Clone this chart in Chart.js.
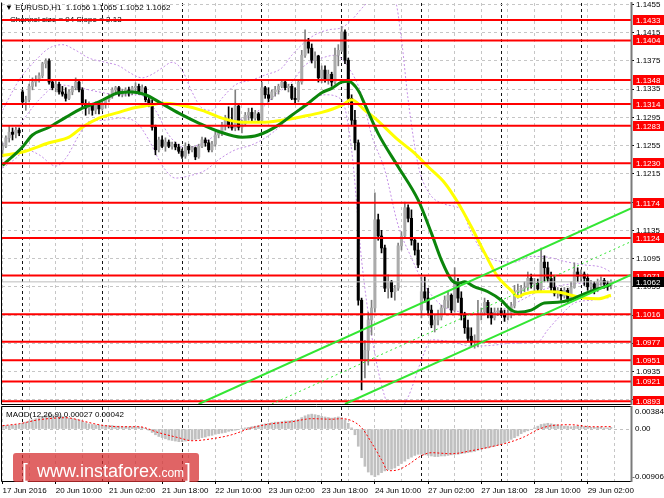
<!DOCTYPE html>
<html>
<head>
<meta charset="utf-8">
<title>EURUSD H1</title>
<script src="https://cdn.jsdelivr.net/npm/chart.js@4.4.1/dist/chart.umd.min.js"></script>
<style>
  html, body { margin: 0; padding: 0; background: #fff; }
  #wrap { position: relative; width: 664px; height: 498px; overflow: hidden; }
  #priceChart { position: absolute; left: 0; top: 0; }
  #macdChart { position: absolute; left: 0; top: 405px; }
</style>
</head>
<body>
<div id="wrap">
  <canvas id="priceChart" width="664" height="405"></canvas>
  <canvas id="macdChart" width="664" height="93"></canvas>
</div>
<script>
// hourly bars, index 0 = 17 Jun 18:00
const barOpen = [
  1.1249,1.1254,1.1266,1.1274,1.1271,1.1277,1.1331,1.1317,1.1320,1.1339,
  1.1345,1.1348,1.1354,1.1371,1.1375,1.1345,1.1337,1.1342,1.1331,1.1328,
  1.1322,1.1331,1.1337,1.1345,1.1334,1.1314,1.1308,1.1314,1.1305,1.1312,
  1.1307,1.1315,1.1320,1.1325,1.1334,1.1337,1.1328,1.1331,1.1334,1.1330,
  1.1337,1.1339,1.1331,1.1337,1.1320,1.1314,1.1281,1.1249,1.1263,1.1254,
  1.1260,1.1254,1.1257,1.1253,1.1247,1.1240,1.1254,1.1249,1.1252,1.1239,
  1.1254,1.1263,1.1259,1.1249,1.1257,1.1270,1.1273,1.1284,1.1291,1.1284,
  1.1280,1.1311,1.1281,1.1286,1.1298,1.1302,1.1294,1.1300,1.1291,1.1337,
  1.1327,1.1322,1.1331,1.1334,1.1339,1.1345,1.1337,1.1339,1.1322,1.1320,
  1.1345,1.1383,1.1402,1.1393,1.1376,1.1382,1.1351,1.1362,1.1348,1.1356,
  1.1345,1.1383,1.1390,1.1416,1.1376,1.1322,1.1291,1.1259,1.1036,1.0951,
  1.0965,1.1008,1.1025,1.1150,1.1127,1.1110,1.1053,1.1062,1.1048,1.1053,
  1.1113,1.1127,1.1167,1.1152,1.1121,1.1107,1.1022,1.1048,1.1039,1.1022,
  1.1001,1.1008,1.1012,1.1025,1.1036,1.1043,1.1022,1.1062,1.1039,1.1015,
  1.0997,1.0985,1.0977,1.0977,1.1015,1.1019,1.1033,1.1018,1.1011,1.1019,
  1.1021,1.1016,1.1012,1.1018,1.1028,1.1048,1.1050,1.1053,1.1054,1.1067,
  1.1059,1.1060,1.1052,1.1090,1.1082,1.1067,1.1054,1.1046,1.1050,1.1042,
  1.1050,1.1038,1.1054,1.1076,1.1070,1.1073,1.1067,1.1055,1.1059,1.1050,
  1.1062,1.1064,1.1059,1.1056
];
const barHigh = [
  1.1259,1.1269,1.1283,1.1280,1.1281,1.1280,1.1334,1.1325,1.1342,1.1351,
  1.1354,1.1358,1.1373,1.1378,1.1378,1.1348,1.1348,1.1345,1.1339,1.1337,
  1.1334,1.1339,1.1351,1.1348,1.1337,1.1320,1.1317,1.1315,1.1317,1.1315,
  1.1320,1.1322,1.1328,1.1337,1.1339,1.1339,1.1335,1.1337,1.1338,1.1339,
  1.1344,1.1342,1.1341,1.1339,1.1325,1.1320,1.1284,1.1267,1.1269,1.1266,
  1.1263,1.1260,1.1260,1.1257,1.1250,1.1259,1.1257,1.1254,1.1253,1.1257,
  1.1267,1.1266,1.1263,1.1261,1.1274,1.1277,1.1288,1.1298,1.1310,1.1308,
  1.1334,1.1314,1.1291,1.1302,1.1308,1.1308,1.1305,1.1302,1.1345,1.1339,
  1.1337,1.1334,1.1339,1.1342,1.1348,1.1348,1.1342,1.1342,1.1337,1.1348,
  1.1390,1.1419,1.1407,1.1399,1.1388,1.1383,1.1368,1.1368,1.1362,1.1359,
  1.1393,1.1398,1.1424,1.1419,1.1379,1.1327,1.1305,1.1263,1.1039,1.0979,
  1.1019,1.1036,1.1188,1.1158,1.1135,1.1114,1.1072,1.1064,1.1057,1.1117,
  1.1133,1.1175,1.1171,1.1164,1.1124,1.1117,1.1069,1.1069,1.1053,1.1029,
  1.1015,1.1022,1.1029,1.1042,1.1048,1.1045,1.1082,1.1067,1.1048,1.1019,
  1.1008,1.0997,1.0987,1.1036,1.1025,1.1039,1.1036,1.1025,1.1025,1.1025,
  1.1025,1.1022,1.1022,1.1033,1.1057,1.1059,1.1057,1.1062,1.1076,1.1073,
  1.1067,1.1066,1.1110,1.1099,1.1090,1.1076,1.1070,1.1054,1.1053,1.1054,
  1.1053,1.1062,1.1089,1.1082,1.1079,1.1076,1.1072,1.1064,1.1062,1.1066,
  1.1069,1.1067,1.1063,1.1065
];
const barLow = [
  1.1239,1.1252,1.1260,1.1263,1.1266,1.1269,1.1314,1.1305,1.1317,1.1334,
  1.1339,1.1345,1.1351,1.1365,1.1342,1.1334,1.1331,1.1328,1.1325,1.1318,
  1.1320,1.1327,1.1334,1.1331,1.1308,1.1298,1.1300,1.1298,1.1300,1.1300,
  1.1305,1.1308,1.1317,1.1322,1.1330,1.1325,1.1324,1.1325,1.1325,1.1327,
  1.1331,1.1328,1.1327,1.1317,1.1310,1.1277,1.1242,1.1246,1.1252,1.1247,
  1.1252,1.1250,1.1249,1.1244,1.1237,1.1237,1.1244,1.1246,1.1235,1.1237,
  1.1252,1.1254,1.1246,1.1246,1.1254,1.1266,1.1269,1.1277,1.1280,1.1277,
  1.1276,1.1277,1.1273,1.1283,1.1291,1.1288,1.1291,1.1288,1.1290,1.1322,
  1.1317,1.1320,1.1325,1.1328,1.1337,1.1334,1.1331,1.1320,1.1315,1.1317,
  1.1342,1.1380,1.1386,1.1372,1.1365,1.1345,1.1344,1.1345,1.1342,1.1339,
  1.1342,1.1368,1.1388,1.1371,1.1314,1.1284,1.1249,1.1029,1.0909,1.0926,
  1.0944,1.0987,1.1019,1.1121,1.1103,1.1048,1.1039,1.1040,1.1036,1.1050,
  1.1107,1.1124,1.1147,1.1114,1.1100,1.1082,1.1011,1.1033,1.1015,1.0997,
  1.0991,1.1001,1.1008,1.1016,1.1025,1.1018,1.1019,1.1033,1.1008,1.0989,
  1.0977,1.0972,1.0968,1.0970,1.1008,1.1016,1.1011,1.1002,1.1008,1.1014,
  1.1014,1.1006,1.1008,1.1011,1.1025,1.1039,1.1040,1.1048,1.1050,1.1053,
  1.1048,1.1048,1.1049,1.1062,1.1062,1.1048,1.1042,1.1039,1.1036,1.1039,
  1.1033,1.1036,1.1053,1.1062,1.1062,1.1057,1.1050,1.1048,1.1045,1.1048,
  1.1057,1.1053,1.1050,1.1052
];
const barClose = [
  1.1254,1.1266,1.1274,1.1271,1.1277,1.1273,1.1317,1.1320,1.1339,1.1345,
  1.1348,1.1354,1.1371,1.1375,1.1345,1.1337,1.1342,1.1331,1.1328,1.1322,
  1.1331,1.1337,1.1345,1.1334,1.1314,1.1308,1.1314,1.1305,1.1312,1.1307,
  1.1315,1.1320,1.1325,1.1334,1.1337,1.1328,1.1331,1.1334,1.1330,1.1337,
  1.1339,1.1331,1.1337,1.1320,1.1314,1.1281,1.1249,1.1263,1.1254,1.1260,
  1.1254,1.1257,1.1253,1.1247,1.1240,1.1254,1.1249,1.1252,1.1239,1.1254,
  1.1263,1.1259,1.1249,1.1257,1.1270,1.1273,1.1284,1.1291,1.1284,1.1280,
  1.1311,1.1281,1.1286,1.1298,1.1302,1.1294,1.1300,1.1291,1.1337,1.1327,
  1.1322,1.1331,1.1334,1.1339,1.1345,1.1337,1.1339,1.1322,1.1320,1.1345,
  1.1383,1.1402,1.1393,1.1376,1.1382,1.1351,1.1362,1.1348,1.1356,1.1345,
  1.1383,1.1390,1.1416,1.1376,1.1322,1.1291,1.1259,1.1036,1.0951,1.0965,
  1.1008,1.1025,1.1150,1.1127,1.1110,1.1053,1.1062,1.1048,1.1053,1.1113,
  1.1127,1.1167,1.1152,1.1121,1.1107,1.1086,1.1048,1.1039,1.1022,1.1001,
  1.1008,1.1015,1.1025,1.1036,1.1043,1.1022,1.1062,1.1039,1.1015,1.0997,
  1.0982,1.0977,1.0979,1.1015,1.1019,1.1033,1.1018,1.1011,1.1019,1.1021,
  1.1016,1.1012,1.1018,1.1028,1.1048,1.1050,1.1053,1.1054,1.1067,1.1059,
  1.1060,1.1052,1.1090,1.1082,1.1067,1.1054,1.1046,1.1050,1.1042,1.1050,
  1.1038,1.1054,1.1076,1.1070,1.1073,1.1067,1.1055,1.1059,1.1050,1.1062,
  1.1064,1.1059,1.1055,1.1062
];

// indicator curves: [bar, value]
const maGreen = [[0,1.1227],[6,1.1253],[9,1.1270],[14,1.1281],[19,1.1295],[24,1.1308],[29,1.1317],[35,1.1330],[39,1.1331],[43,1.1327],[47,1.1317],[53,1.1301],[59,1.1287],[65,1.1275],[72,1.1267],[77,1.1270],[83,1.1284],[87,1.1298],[92,1.1315],[96,1.1330],[99,1.1336],[102,1.1345],[104,1.1346],[107,1.1333],[109,1.1313],[113,1.1272],[119,1.1225],[125,1.1178],[129,1.1131],[132,1.1093],[135,1.1065],[137,1.1060],[139,1.1062],[142,1.1055],[146,1.1048],[150,1.1036],[153,1.1022],[155,1.1019],[159,1.1022],[163,1.1032],[167,1.1033],[171,1.1037],[175,1.1045],[179,1.1052],[183,1.1058]];
const maYellow = [[0,1.1241],[6,1.1246],[14,1.1259],[20,1.1267],[24,1.1281],[29,1.1294],[35,1.1302],[39,1.1308],[44,1.1312],[48,1.1315],[53,1.1313],[60,1.1305],[66,1.1294],[72,1.1288],[78,1.1288],[84,1.1291],[90,1.1296],[96,1.1302],[102,1.1312],[105,1.1320],[109,1.1305],[112,1.1294],[119,1.1263],[124,1.1244],[128,1.1225],[133,1.1202],[137,1.1174],[141,1.1140],[145,1.1103],[149,1.1069],[153,1.1050],[155,1.1041],[157,1.1045],[161,1.1048],[165,1.1048],[169,1.1046],[171,1.1043],[175,1.1039],[179,1.1038],[183,1.1043]];
const bandUpper = [[0,1.1305],[5,1.1348],[10,1.1376],[14,1.1393],[18,1.1398],[22,1.1390],[26,1.1379],[31,1.1373],[35,1.1368],[38,1.1359],[42,1.1351],[45,1.1356],[48,1.1365],[51,1.1373],[54,1.1362],[57,1.1331],[60,1.1308],[63,1.1305],[66,1.1322],[70,1.1341],[75,1.1348],[79,1.1355],[84,1.1365],[87,1.1383],[91,1.1402],[94,1.1412],[98,1.1419],[102,1.1422],[105,1.1433],[109,1.1454],[113,1.1468],[118,1.1461],[120,1.1405],[122,1.1320],[125,1.1228],[128,1.1190],[133,1.1172],[138,1.1164],[141,1.1132],[145,1.1101],[150,1.1091],[154,1.1090],[159,1.1098],[164,1.1097],[169,1.1091],[175,1.1086],[180,1.1083],[183,1.1076]];
const bandMiddle = [[0,1.1256],[5,1.1284],[11,1.1320],[17,1.1341],[23,1.1337],[29,1.1331],[35,1.1327],[41,1.1327],[46,1.1305],[50,1.1270],[55,1.1252],[59,1.1256],[64,1.1270],[68,1.1288],[73,1.1294],[78,1.1308],[82,1.1327],[87,1.1345],[91,1.1369],[96,1.1379],[100,1.1383],[104,1.1366],[108,1.1327],[111,1.1270],[115,1.1220],[119,1.1142],[123,1.1096],[127,1.1057],[132,1.1029],[138,1.1019],[144,1.1015],[150,1.1022],[156,1.1036],[162,1.1050],[168,1.1057],[175,1.1060],[183,1.1057]];
const bandLower = [[0,1.1223],[4,1.1237],[7,1.1249],[11,1.1242],[16,1.1226],[19,1.1237],[23,1.1270],[26,1.1289],[31,1.1291],[35,1.1294],[40,1.1289],[44,1.1263],[48,1.1227],[52,1.1209],[56,1.1212],[61,1.1220],[65,1.1235],[70,1.1249],[75,1.1256],[79,1.1266],[84,1.1284],[88,1.1303],[93,1.1320],[97,1.1327],[102,1.1320],[105,1.1249],[108,1.1093],[111,1.0987],[115,1.0899],[118,1.0874],[122,1.0899],[126,1.0951],[129,1.0980],[135,1.0977],[141,1.0971],[147,1.0972],[153,1.0975],[161,1.0977],[164,1.0994],[168,1.1015],[172,1.1032],[177,1.1036],[183,1.1040]];

// regression channel
const channelUpper = [[59,1.0889],[189.04,1.1166]];
const channelMiddle = [[81,1.0889],[189.04,1.1119]];
const channelLower = [[103,1.0889],[189.04,1.1072]];

// horizontal levels
const levelPrices = [1.1433,1.1404,1.1348,1.1314,1.1283,1.1230,1.1174,1.1124,1.1071,1.1016,1.0977,1.0951,1.0921,1.0893];
const lastPrice = 1.1062;
const priceTicks = [1.1455,1.1415,1.1375,1.1335,1.1295,1.1255,1.1215,1.1175,1.1135,1.1095,1.1055,1.1015,1.0975,1.0935,1.0895];

// MACD(12,26,9)
const macdHist = [
  0.0005,0.0006,0.0006,0.0007,0.0007,0.0008,0.0010,0.0012,0.0014,0.0016,
  0.0018,0.0020,0.0022,0.0024,0.0025,0.0025,0.0024,0.0023,0.0022,0.0021,
  0.0019,0.0018,0.0017,0.0016,0.0013,0.0011,0.0009,0.0008,0.0007,0.0007,
  0.0006,0.0006,0.0006,0.0006,0.0005,0.0005,0.0004,0.0004,0.0004,0.0004,
  0.0004,0.0004,0.0003,0.0001,-0.0002,-0.0006,-0.0010,-0.0013,-0.0015,-0.0017,
  -0.0019,-0.0020,-0.0021,-0.0022,-0.0022,-0.0021,-0.0020,-0.0019,-0.0018,-0.0017,
  -0.0015,-0.0014,-0.0012,-0.0011,-0.0009,-0.0008,-0.0007,-0.0006,-0.0004,-0.0003,
  -0.0002,-0.0001,0.0001,0.0002,0.0003,0.0004,0.0005,0.0006,0.0008,0.0009,
  0.0010,0.0011,0.0012,0.0012,0.0013,0.0014,0.0014,0.0015,0.0015,0.0017,
  0.0020,0.0023,0.0025,0.0026,0.0025,0.0024,0.0022,0.0021,0.0020,0.0019,
  0.0020,0.0021,0.0020,0.0016,0.0010,0.0002,-0.0010,-0.0030,-0.0050,-0.0065,
  -0.0075,-0.0080,-0.0083,-0.0080,-0.0076,-0.0073,-0.0071,-0.0070,-0.0068,-0.0064,
  -0.0060,-0.0056,-0.0052,-0.0049,-0.0046,-0.0044,-0.0044,-0.0045,-0.0046,-0.0047,
  -0.0048,-0.0048,-0.0047,-0.0047,-0.0046,-0.0045,-0.0044,-0.0044,-0.0043,-0.0042,
  -0.0041,-0.0040,-0.0039,-0.0037,-0.0035,-0.0034,-0.0033,-0.0031,-0.0030,-0.0028,
  -0.0026,-0.0024,-0.0021,-0.0018,-0.0015,-0.0012,-0.0008,-0.0005,-0.0003,-0.0001,
  0.0002,0.0005,0.0008,0.0009,0.0010,0.0009,0.0008,0.0007,0.0006,0.0005,
  0.0005,0.0004,0.0005,0.0005,0.0004,0.0004,0.0004,0.0003,0.0003,0.0003,
  0.0003,0.0002,0.0002,0.0003
];
const macdSignal = [[0,0.00058],[5,0.00092],[11,0.00162],[19,0.00197],[25,0.00127],[29,0.00075],[35,0.00040],[41,0.00040],[47,-0.00064],[53,-0.00152],[57,-0.00204],[63,-0.00169],[69,-0.00099],[75,0.00023],[81,0.00092],[87,0.00127],[93,0.00180],[99,0.00171],[102,0.00180],[105,0.00145],[108,0.00023],[111,-0.00239],[114,-0.00535],[116,-0.00727],[119,-0.00710],[122,-0.00622],[126,-0.00465],[129,-0.00413],[135,-0.00431],[141,-0.00378],[147,-0.00308],[153,-0.00221],[157,-0.00134],[161,-0.00012],[165,0.00058],[171,0.00075],[177,0.00040],[183,0.00042]];
const macdMax = 0.00384;
const macdMin = -0.00906;
const macdScaleValues = [0.00384, 0, -0.00906];
const macdScaleLabels = ["0.00384", "0.00", "-0.00906"];

const timeLabels = ["17 Jun 2016","20 Jun 10:00","21 Jun 02:00","21 Jun 18:00","22 Jun 10:00","23 Jun 02:00","23 Jun 18:00","24 Jun 10:00","27 Jun 02:00","27 Jun 18:00","28 Jun 10:00","29 Jun 02:00"];
const timeLabelBars = [0,16,32,48,64,80,96,112,128,144,160,176];
const dayStartBars = [6,30,54,78,102,126,150,174];

const X_MIN = -0.165, X_MAX = 189.04;
const PRICE_MIN = 1.0889, PRICE_MAX = 1.1457;
const FONT = "'Liberation Sans', Arial, sans-serif";

Chart.defaults.font.family = FONT;
Chart.defaults.font.size = 8;
Chart.defaults.color = "#000";

const barIdx = barOpen.map((_, i) => i);
const gridBars = [];
for (let b = 0; b <= 184; b += 8) gridBars.push(b);

const toXY = pts => pts.map(p => ({ x: p[0], y: p[1] }));

function lineSet(points, color, width, dash, order) {
  return {
    type: "line", data: toXY(points), borderColor: color, borderWidth: width,
    borderDash: dash || [], pointRadius: 0, fill: false,
    cubicInterpolationMode: "monotone", order: order
  };
}

function gridAxis(bars, color, position) {
  return {
    type: "linear", min: X_MIN, max: X_MAX, offset: false, bounds: "data", position: position,
    afterBuildTicks: s => { s.ticks = bars.map(v => ({ value: v })); },
    afterFit: s => { s.height = 0; s.paddingLeft = 0; s.paddingRight = 0; },
    ticks: { display: false },
    grid: { color: color, drawTicks: false, offset: false },
    border: { display: false, dash: [3, 3] }
  };
}

const bull = barIdx.map(i => barClose[i] >= barOpen[i]);

// header text, drawn under the level lines
const headerText = {
  id: "headerText",
  beforeDatasetsDraw(chart) {
    const ctx = chart.ctx;
    ctx.save();
    ctx.fillStyle = "#000";
    ctx.font = "8px " + FONT;
    ctx.textBaseline = "middle";
    ctx.fillText("\u25BC EURUSD,H1  1.1056 1.1065 1.1052 1.1062", 5, 8);
    ctx.fillText("Channel size = 94 Slope = 2.13", 10, 20);
    ctx.restore();
  }
};

function frame(ctx, a, top) {
  ctx.save();
  ctx.strokeStyle = "#000";
  ctx.lineWidth = 1;
  ctx.beginPath();
  if (top) { ctx.moveTo(a.left - 0.5, a.top - 0.5); ctx.lineTo(a.right, a.top - 0.5); }
  ctx.moveTo(a.left - 0.5, a.top - 0.5);
  ctx.lineTo(a.left - 0.5, a.bottom + 0.5);
  ctx.lineTo(a.right, a.bottom + 0.5);
  ctx.stroke();
  ctx.strokeStyle = "#7a7a7a";
  ctx.lineWidth = 2;
  ctx.beginPath();
  ctx.moveTo(a.right + 0.5, a.top - 1);
  ctx.lineTo(a.right + 0.5, a.bottom + 1);
  ctx.stroke();
  ctx.restore();
}

function tag(ctx, x, py, text, bg) {
  const y = Math.round(py);
  ctx.fillStyle = bg;
  ctx.fillRect(x, y - 5, 664 - x, 10);
  ctx.fillStyle = "#fff";
  ctx.fillText(text, x + 3, y + 0.5);
}

const priceDecor = {
  id: "priceDecor",
  afterDraw(chart) {
    const { ctx, chartArea: a, scales: { y } } = chart;
    frame(ctx, a, false);
    ctx.save();
    ctx.font = "8px " + FONT;
    ctx.textBaseline = "middle";
    levelPrices.forEach(p => tag(ctx, a.right + 2, y.getPixelForValue(p), p.toFixed(4), "#ff0000"));
    tag(ctx, a.right + 2, y.getPixelForValue(lastPrice), lastPrice.toFixed(4), "#000");
    ctx.restore();
  }
};

const levelSets = levelPrices.map(p => ({
  type: "line", data: [{ x: X_MIN, y: p }, { x: X_MAX, y: p }],
  borderColor: "#ff0000", borderWidth: 2, pointRadius: 0, fill: false, order: 3
}));

new Chart(document.getElementById("priceChart"), {
  type: "bar",
  data: {
    datasets: [
      lineSet(bandUpper, "#c48fe6", 1, [2, 2], 10),
      lineSet(bandMiddle, "#c48fe6", 1, [2, 2], 10),
      lineSet(bandLower, "#c48fe6", 1, [2, 2], 10),
      {
        data: barIdx.map(i => ({ x: i, y: [barLow[i], barHigh[i]] })),
        backgroundColor: bull.map(b => b ? "#808080" : "#000"),
        barThickness: 1, grouped: false, minBarLength: 1, order: 9
      },
      {
        data: barIdx.map(i => ({ x: i, y: [barOpen[i], barClose[i]] })),
        backgroundColor: bull.map(b => b ? "#ababab" : "#000"),
        barThickness: 2.4, grouped: false, minBarLength: 1, order: 8
      },
      {
        type: "line", data: [{ x: X_MIN, y: lastPrice }, { x: X_MAX, y: lastPrice }],
        borderColor: "#bdbdbd", borderWidth: 1, pointRadius: 0, fill: false, order: 7
      },
      lineSet(maYellow, "#ffff00", 3, [], 6),
      lineSet(maGreen, "#0b850b", 3, [], 5),
      ...levelSets,
      lineSet(channelUpper, "#33e633", 2, [], 2),
      lineSet(channelMiddle, "#33e633", 1, [2, 3], 2),
      lineSet(channelLower, "#33e633", 2, [], 2)
    ]
  },
  options: {
    responsive: false, animation: false, events: [],
    layout: { padding: { left: 2, top: 3, right: 0, bottom: 1 } },
    plugins: { legend: { display: false }, tooltip: { enabled: false } },
    scales: {
      x: gridAxis(gridBars, "#c6c6c6", "bottom"),
      xDay: gridAxis(dayStartBars, "#111", "top"),
      y: {
        type: "linear", position: "right", min: PRICE_MIN, max: PRICE_MAX, bounds: "data",
        afterBuildTicks: s => { s.ticks = priceTicks.map(v => ({ value: v })); },
        afterFit: s => { s.width = 33; s.paddingTop = 0; s.paddingBottom = 0; },
        ticks: { callback: v => v.toFixed(4), padding: 2, autoSkip: false, color: "#000", font: { size: 8 } },
        grid: { color: "#c6c6c6", tickColor: "#000", tickLength: 3, tickBorderDash: [] },
        border: { display: false, dash: [3, 3] }
      }
    }
  },
  plugins: [headerText, priceDecor]
});

// MACD panel
function roundRect(ctx, x, y, w, h, r) {
  ctx.beginPath();
  ctx.moveTo(x + r, y);
  ctx.lineTo(x + w - r, y);
  ctx.quadraticCurveTo(x + w, y, x + w, y + r);
  ctx.lineTo(x + w, y + h - r);
  ctx.quadraticCurveTo(x + w, y + h, x + w - r, y + h);
  ctx.lineTo(x + r, y + h);
  ctx.quadraticCurveTo(x, y + h, x, y + h - r);
  ctx.lineTo(x, y + r);
  ctx.quadraticCurveTo(x, y, x + r, y);
  ctx.closePath();
}

const macdDecor = {
  id: "macdDecor",
  afterDraw(chart) {
    const { ctx, chartArea: a, scales: { y } } = chart;
    frame(ctx, a, true);
    ctx.save();
    ctx.font = "8px " + FONT;
    ctx.fillStyle = "#000";
    ctx.textBaseline = "middle";
    ctx.fillText("MACD(12,26,9) 0.00027 0.00042", a.left + 4, a.top + 8);
    macdScaleValues.forEach((v, k) => {
      let py = y.getPixelForValue(v);
      py = Math.min(Math.max(py, a.top + 5), a.bottom - 4);
      const txt = macdScaleLabels[k];
      const dx = txt.charAt(0) === "-" ? ctx.measureText("-").width : 0;
      ctx.fillText(txt, a.right + 4 - dx, py);
    });
    // watermark
    ctx.fillStyle = "rgba(214, 48, 49, 0.75)";
    roundRect(ctx, 13, 48, 186, 29, 3);
    ctx.fill();
    ctx.fillStyle = "#fff";
    ctx.textBaseline = "alphabetic";
    ctx.font = "21px " + FONT;
    ctx.fillText("[", 22, 73);
    ctx.fillText("]", 185, 73);
    ctx.font = "18px " + FONT;
    ctx.fillText("www.instaforex", 37, 72);
    const w = ctx.measureText("www.instaforex").width;
    ctx.font = "12px " + FONT;
    ctx.fillText(".com", 37 + w, 72);
    ctx.restore();
  }
};

const macdX = gridAxis(gridBars, "#c6c6c6", "bottom");
macdX.afterFit = s => { s.height = 17; s.paddingLeft = 0; s.paddingRight = 0; };
macdX.ticks = {
  display: true, autoSkip: false, maxRotation: 0, minRotation: 0, align: "start", padding: 2,
  color: "#000", font: { size: 8 },
  callback: v => { const k = timeLabelBars.indexOf(v); return k >= 0 ? timeLabels[k] : ""; }
};
macdX.grid = {
  color: "#c6c6c6", offset: false, drawTicks: true, tickLength: 3, tickBorderDash: [],
  tickColor: c => (c.tick && timeLabelBars.indexOf(c.tick.value) >= 0) ? "#000" : "rgba(0,0,0,0)"
};

new Chart(document.getElementById("macdChart"), {
  type: "bar",
  data: {
    datasets: [
      {
        type: "line", data: toXY(macdSignal), borderColor: "#ff0000", borderWidth: 1,
        borderDash: [2, 2], pointRadius: 0, fill: false, cubicInterpolationMode: "monotone", order: 1
      },
      {
        data: barIdx.map(i => ({ x: i, y: macdHist[i] })),
        backgroundColor: "#c0c0c0", barThickness: 2, grouped: false, order: 2
      }
    ]
  },
  options: {
    responsive: false, animation: false, events: [],
    layout: { padding: { left: 2, top: 2, right: 0, bottom: 0 } },
    plugins: { legend: { display: false }, tooltip: { enabled: false } },
    scales: {
      x: macdX,
      xDay: gridAxis(dayStartBars, "#111", "top"),
      y: {
        type: "linear", position: "right", min: macdMin, max: macdMax, bounds: "data",
        afterBuildTicks: s => { s.ticks = [{ value: 0 }]; },
        afterFit: s => { s.width = 33; s.paddingTop = 0; s.paddingBottom = 0; },
        ticks: { display: false },
        grid: { color: "#c0c0c0", drawTicks: false },
        border: { display: false, dash: [3, 3] }
      }
    }
  },
  plugins: [macdDecor]
});
</script>
</body>
</html>
